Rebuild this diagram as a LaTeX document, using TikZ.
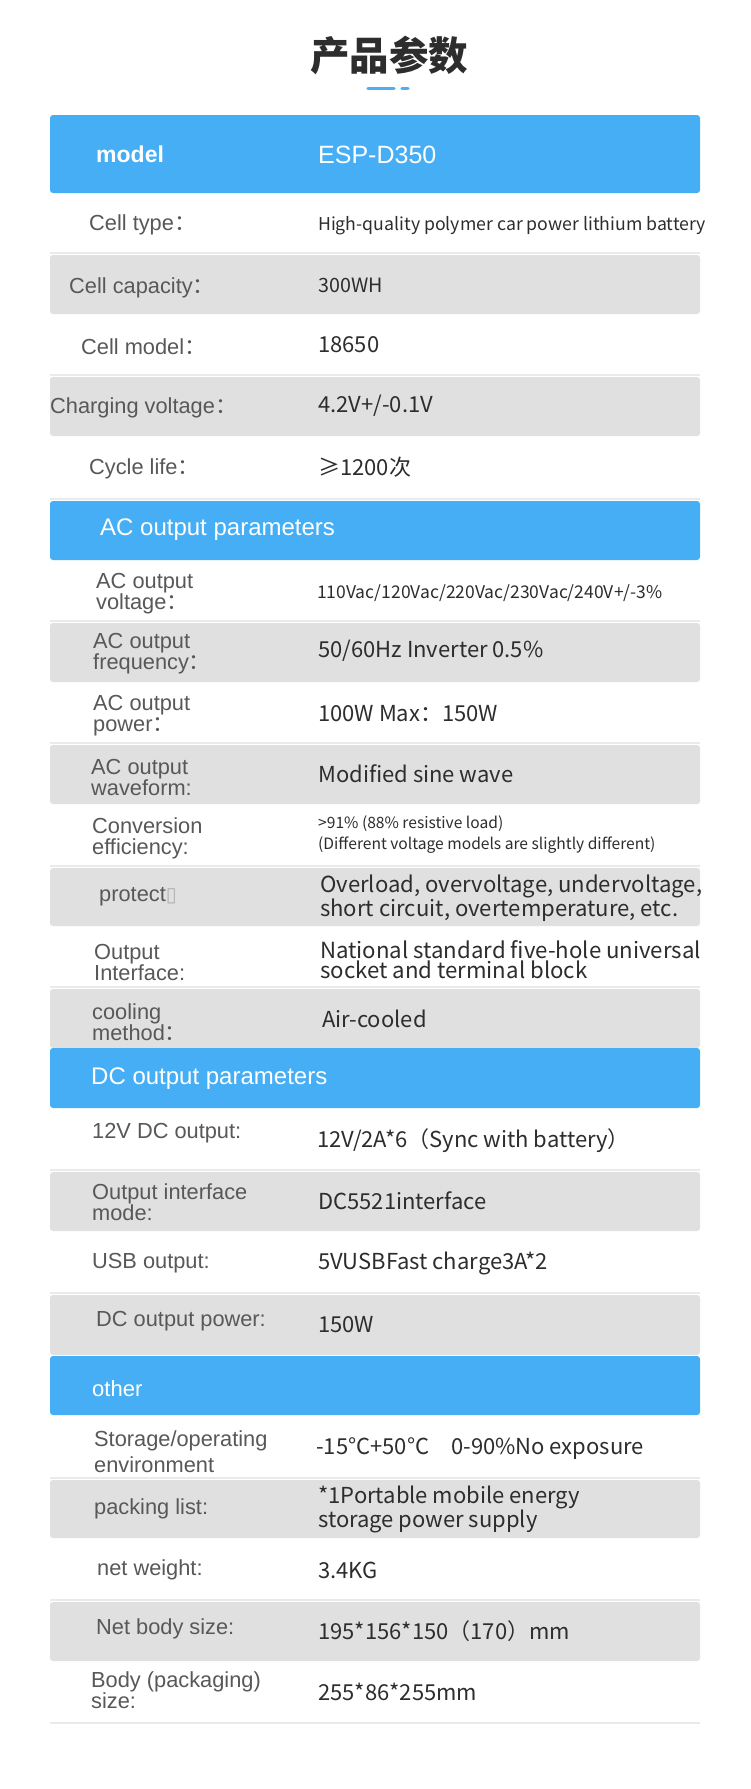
\documentclass[tikz,border=0pt]{standalone}
\usepackage{fontspec}
\setmainfont{Liberation Sans}
\newfontfamily\cjk{Noto Sans CJK SC}
\newfontfamily\symb{DejaVu Sans}
\definecolor{headblue}{RGB}{70,174,245}
\definecolor{dashblue}{RGB}{77,176,245}
\definecolor{rowgray}{RGB}{224,224,224}
\definecolor{sepgray}{RGB}{234,234,234}
\definecolor{lblgray}{RGB}{88,88,88}
\definecolor{valdark}{RGB}{45,45,45}
\def\fc{{\cjk ：}}
\def\grayrow(#1:#2){\draw[line width=2pt, color=sepgray] (50, #1-2) -- (700, #1-2); \fill[rowgray, rounded corners=3pt] (50, #1) rectangle (700, #2);}
\def\bluerow(#1:#2){\fill[headblue, rounded corners=3pt] (50, #1) rectangle (700, #2);}

\begin{document}
\begin{tikzpicture}[x=1pt, y=-1pt,
	lbl/.style={anchor=west, inner sep=0pt, yshift=-2pt, text=lblgray, align=left, font=\fontsize{21.8}{21}\selectfont},
	val/.style={anchor=west, inner sep=0pt, text=valdark, align=left, font=\cjk\fontsize{22}{20}\selectfont},
	head/.style={anchor=west, inner sep=0pt, yshift=-1pt, text=white, font=\fontsize{24}{24}\selectfont}]
			%%%%% START %%%%%
			\useasboundingbox[fill=white] (0, 0) rectangle (750, 1789);
			
			\node[text=valdark, font=\cjk\bfseries\fontsize{39.5}{40}\selectfont] (title) at (389, 55) {产品参数};
			\draw[dashblue, line width=3.5pt, line cap=round] (368, 88.5) -- (394, 88.5);
			\draw[dashblue, line width=3.5pt, line cap=round] (402, 88.5) -- (408, 88.5);
			
			% backgrounds
			\bluerow(115:193)
			\grayrow(255:314)
			\grayrow(377:436)
			\draw[line width=2pt, color=sepgray] (50, 499) -- (700, 499);
			\bluerow(501:560)
			\grayrow(623:682)
			\grayrow(745:804)
			\grayrow(868:926)
			\grayrow(989:1048)
			\bluerow(1048:1108)
			\grayrow(1172:1231)
			\grayrow(1295:1355)
			\bluerow(1356:1415)
			\grayrow(1480:1538)
			\grayrow(1602:1661)
			\draw[line width=2pt, color=sepgray] (50, 1723) -- (700, 1723);
			
			% battery
			\node[head, yshift=1pt, font=\bfseries\fontsize{23}{23}\selectfont] (model) at (96, 154) {model};
			\node[head, yshift=1pt, font=\fontsize{25}{25}\selectfont] (modelval) at (318, 155) {ESP-D350};
			\node[lbl] (celltype) at (89, 223) {Cell type\fc};
			\node[val, font=\cjk\fontsize{17.7}{20}\selectfont] (celltypeval) at (318, 226) {High-quality polymer car power lithium battery};
			\node[lbl] (cellcap) at (69, 286) {Cell capacity\fc};
			\node[val, font=\cjk\fontsize{19.7}{20}\selectfont] (cellcapval) at (318, 285) {300WH};
			\node[lbl] (cellmodel) at (81, 345) {Cell model\fc};
			\node[val] (cellmodelval) at (318, 345) {18650};
			\node[lbl] (charging) at (50, 406) {Charging voltage\fc};
			\node[val] (chargingval) at (318, 406) {4.2V+/-0.1V};
			\node[lbl] (cycle) at (89, 467) {Cycle life\fc};
			\node[val] (cycleval) at (318, 467) {≥1200次};
			
			% AC output
			\node[head] (achead) at (100, 529) {AC output parameters};
			\node[lbl] (acvolt) at (96, 592) {AC output\\voltage\fc};
			\node[val, font=\cjk\fontsize{17.5}{20}\selectfont] (acvoltval) at (317, 593) {110Vac/120Vac/220Vac/230Vac/240V+/-3\%};
			\node[lbl] (acfreq) at (93, 652) {AC output\\frequency\fc};
			\node[val] (acfreqval) at (318, 651) {50/60Hz Inverter 0.5\%};
			\node[lbl] (acpower) at (93, 714) {AC output\\power\fc};
			\node[val] (acpowerval) at (318, 714) {100W Max：150W};
			\node[lbl] (acwave) at (91, 775) {AC output\\waveform:};
			\node[val] (acwaveval) at (318, 774) {Modified sine wave};
			\node[lbl] (conv) at (92, 836) {Conversion\\efficiency:};
			\node[val, font=\cjk\fontsize{15.6}{21}\selectfont] (convval) at (318, 835) {>91\% (88\% resistive load)\\(Different voltage models are slightly different)};
			\node[lbl] (protect) at (99, 895) {protect{\symb\fontsize{20}{20}\selectfont\textcolor{black!30}{▯}}};
			\node[val, font=\cjk\fontsize{22.1}{19.5}\selectfont] (protectval) at (320, 898) {Overload, overvoltage, undervoltage,\\short circuit, overtemperature, etc.};
			\node[lbl] (iface) at (94, 960) {Output\\Interface:};
			\node[val, font=\cjk\fontsize{22.2}{20}\selectfont] (ifaceval) at (320, 960) {National standard five-hole universal\\socket and terminal block};
			\node[lbl] (cooling) at (92, 1020) {cooling\\method\fc};
			\node[val] (coolingval) at (322, 1019) {Air-cooled};
			
			% DC output
			\node[head] (dchead) at (91, 1078) {DC output parameters};
			\node[lbl] (dc12) at (92, 1131) {12V DC output:};
			\node[val] (dc12val) at (317, 1141) {12V/2A*6（Sync with battery）};
			\node[lbl] (dcmode) at (92, 1200) {Output interface\\mode:};
			\node[val] (dcmodeval) at (318, 1201) {DC5521interface};
			\node[lbl] (usb) at (92, 1261) {USB output:};
			\node[val] (usbval) at (318, 1263) {5VUSBFast charge3A*2};
			\node[lbl] (dcpower) at (96, 1319) {DC output power:};
			\node[val] (dcpowerval) at (318, 1325) {150W};
			
			% other
			\node[head, font=\fontsize{22}{22}\selectfont] (otherhead) at (92, 1388) {other};
			\node[lbl] (storage) at (94, 1450) {Storage/operating\\[5pt]environment};
			\node[val] (storageval) at (316, 1449) {-15°C+50°C\hspace{22pt}0-90\%No exposure};
			\node[lbl] (packing) at (94, 1507) {packing list:};
			\node[val] (packingval) at (318, 1509) {*1Portable mobile energy\\storage power supply};
			\node[lbl] (weight) at (97, 1568) {net weight:};
			\node[val] (weightval) at (318, 1570) {3.4KG};
			\node[lbl] (netsize) at (96, 1627) {Net body size:};
			\node[val] (netsizeval) at (318, 1631) {195*156*150（170）mm};
			\node[lbl] (packsize) at (91, 1688) {Body (packaging)\\size:};
			\node[val] (packsizeval) at (318, 1692) {255*86*255mm};
			
			%%%%% END %%%%%
\end{tikzpicture}
\end{document}
